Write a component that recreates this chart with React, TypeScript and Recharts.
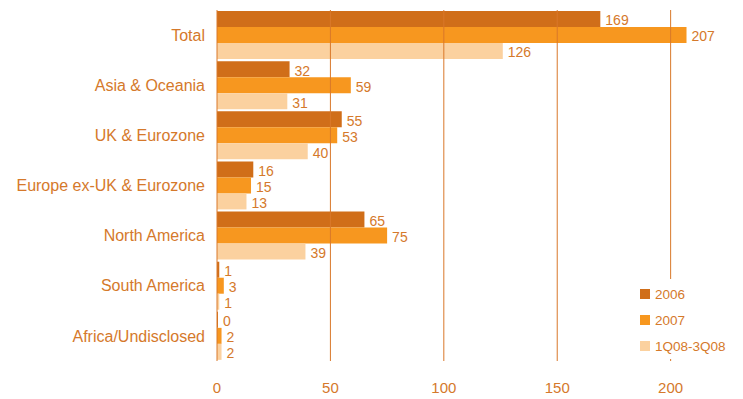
import React from "react";
import { BarChart, Bar, XAxis, YAxis, ReferenceLine, LabelList } from "recharts";

const regions = [
    "Total",
    "Asia & Oceania",
    "UK & Eurozone",
    "Europe ex-UK & Eurozone",
    "North America",
    "South America",
    "Africa/Undisclosed",
];
const values2006 = [169, 32, 55, 16, 65, 1, 0];
const values2007 = [207, 59, 53, 15, 75, 3, 2];
const values1Q08 = [126, 31, 40, 13, 39, 1, 2];
const xTicks = [0, 50, 100, 150, 200];

const seriesList = [
    { key: "y2006", name: "2006", color: "#d06e19" },
    { key: "y2007", name: "2007", color: "#f7971f" },
    { key: "y1Q08", name: "1Q08-3Q08", color: "#fbd19f" },
];

const data = regions.map((region, i) => ({
    region,
    y2006: values2006[i],
    y2007: values2007[i],
    y1Q08: values1Q08[i],
}));

const TEXT = "#d5792b";
const LINE = "#d9782a";
const FONT = "'Liberation Sans', Arial, Helvetica, sans-serif";

function LegendBox() {
    return (
        <div
            style={{
                position: "absolute",
                left: 634,
                top: 279,
                width: 104,
                padding: "2px 0 0 6px",
                background: "#fff",
                fontFamily: FONT,
            }}
        >
            {seriesList.map((s) => (
                <div key={s.key} style={{ display: "flex", alignItems: "center", height: 26 }}>
                    <span style={{ width: 10, height: 10, background: s.color, marginRight: 5 }} />
                    <span style={{ color: TEXT, fontSize: 13.5 }}>{s.name}</span>
                </div>
            ))}
        </div>
    );
}

export default function App() {
    return (
        <div style={{ position: "absolute", left: 0, top: 0, width: 743, height: 399, background: "#fff" }}>
            <BarChart
                width={743}
                height={399}
                data={data}
                layout="vertical"
                margin={{ top: 10, right: 27, left: 0, bottom: 0 }}
                barCategoryGap={1}
                barGap={0}
            >
                <XAxis
                    type="number"
                    domain={[0, 220]}
                    ticks={xTicks}
                    height={38}
                    axisLine={false}
                    tickLine={false}
                    tickMargin={15}
                    tick={{ fill: TEXT, fontSize: 15, fontFamily: FONT }}
                />
                <YAxis
                    type="category"
                    dataKey="region"
                    width={217}
                    axisLine={{ stroke: LINE }}
                    tickLine={false}
                    tickMargin={6}
                    tick={{ fill: TEXT, fontSize: 16, fontFamily: FONT }}
                />
                {xTicks.slice(1).map((t) => (
                    <ReferenceLine key={t} x={t} stroke={LINE} strokeWidth={1} />
                ))}
                {seriesList.map((s) => (
                    <Bar
                        key={s.key}
                        dataKey={s.key}
                        name={s.name}
                        fill={s.color}
                        minPointSize={1}
                        isAnimationActive={false}
                    >
                        <LabelList
                            dataKey={s.key}
                            position="right"
                            offset={5}
                            dy={1.5}
                            fill={TEXT}
                            fontSize={14}
                            fontFamily={FONT}
                        />
                    </Bar>
                ))}
            </BarChart>
            <LegendBox />
        </div>
    );
}
